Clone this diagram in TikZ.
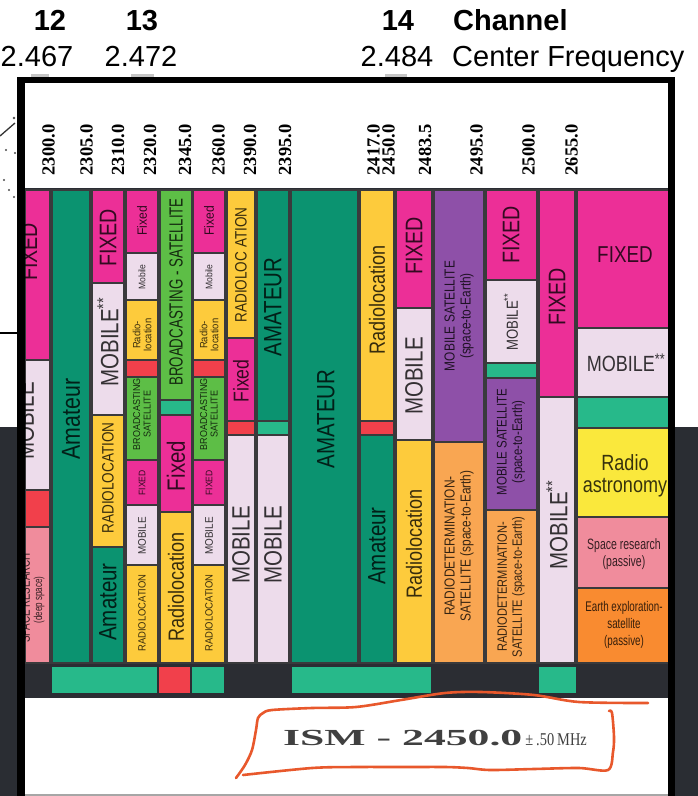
\documentclass[tikz,border=0pt]{standalone}
\usepackage{fontspec}
\setmainfont{Liberation Sans}
\newfontfamily\hfont{Liberation Sans}
\newfontfamily\nfont[FakeStretch=0.82]{Liberation Sans}
\newfontfamily\cfont[FakeStretch=0.7]{Liberation Sans}
\newfontfamily\tfont[FakeStretch=0.9]{Liberation Sans}
\newfontfamily\serfont{Liberation Serif}
\newfontfamily\ismfont[FakeStretch=1.9]{Liberation Serif}
\newfontfamily\ismsmall[FakeStretch=0.8]{Liberation Serif}
\newcommand\nfs[2]{\nfont\fontsize{#1}{#2}\selectfont}
\newcommand\cfs[2]{\cfont\fontsize{#1}{#2}\selectfont}
\newcommand\tfs[2]{\tfont\fontsize{#1}{#2}\selectfont}
\newcommand\cel[5]{\draw[cellb,fill=#1] (#2,#3) rectangle (#4,#5);}
\definecolor{cpink}{HTML}{EC2F97}
\definecolor{clav}{HTML}{EDDCEB}
\definecolor{cyel}{HTML}{FDCB3C}
\definecolor{cgrn}{HTML}{0B9370}
\definecolor{cteal}{HTML}{27B98A}
\definecolor{cred}{HTML}{F1404B}
\definecolor{cbgrn}{HTML}{5DBE46}
\definecolor{cpur}{HTML}{8E50A8}
\definecolor{corl}{HTML}{F9A652}
\definecolor{corg}{HTML}{F98B30}
\definecolor{cbyel}{HTML}{FAE83C}
\definecolor{csal}{HTML}{F08C9C}
\definecolor{cline}{HTML}{3A3A3C}
\definecolor{cdark}{HTML}{2A2D33}
\definecolor{cband}{HTML}{2B2D33}
\definecolor{cism}{HTML}{E8582C}
\begin{document}
\begin{tikzpicture}[x=1pt,y=-1pt,
  cellb/.style={draw=cline,line width=1.1pt},
  vt/.style={rotate=90,inner sep=0pt,text=black,text opacity=0.78,align=center},
  ht/.style={inner sep=0pt,text=black,text opacity=0.78,align=center},
  freq/.style={rotate=90,inner sep=0pt,font=\serfont\bfseries\fontsize{18.5}{18.5}\selectfont},
  hdr/.style={inner sep=0pt,font=\hfont\fontsize{29}{29}\selectfont},
  hdrb/.style={hdr,font=\hfont\bfseries\fontsize{29}{29}\selectfont}]
\useasboundingbox (0,0) rectangle (698,796);
\fill[white] (0,0) rectangle (698,796);
\fill[cdark] (0,427) rectangle (17,796);
\fill[cdark] (675,427) rectangle (698,796);
% remnants at left
\draw[black,line width=1.5pt] (0,333) -- (17,333);
\draw[black!80,line width=1.3pt] (0,136) -- (15,123);
\fill[black!70] (14,118) circle (1.3pt) (6,150) circle (1.1pt) (15,153) circle (1.1pt)
  (4,180) circle (1.1pt) (9,190) circle (1.1pt) (14,197) circle (1.1pt);
% small ticks above frame
\fill[gray!45] (31,74) rectangle (49,77);
\fill[gray!45] (131,74) rectangle (154,77);
\fill[gray!45] (385,74) rectangle (407,77);
% top headings
\node[hdrb,anchor=base] (c12) at (50,30) {12};
\node[hdrb,anchor=base] (c13) at (142,30) {13};
\node[hdrb,anchor=base] (c14) at (398,30) {14};
\node[hdrb,anchor=base west] (chn) at (453,30) {Channel};
\node[hdr,anchor=base] (f12) at (37,66) {2.467};
\node[hdr,anchor=base] (f13) at (141,66) {2.472};
\node[hdr,anchor=base] (f14) at (397,66) {2.484};
\node[hdr,anchor=base west] (cfq) at (452,66) {Center Frequency};
% chart backgrounds
\fill[white] (25,83) rectangle (669,188);
\fill[cband] (25,188) rectangle (669,698);
% column 1
\cel{cpink}{25}{190}{50}{360}
\cel{clav}{25}{360}{50}{490}
\cel{cred}{25}{490}{50}{527}
\cel{csal}{25}{527}{50}{663}
\begin{scope}
\clip (25,190) rectangle (50,663);
\node[vt,anchor=base,font=\nfs{24}{24}] (t01) at (37,252) {FIXED};
\node[vt,anchor=base,font=\nfs{25}{25}] (t02) at (34,421) {MOBILE};
\node[vt,anchor=base,font=\cfs{14}{14}] (t03) at (30,598) {SPACE RESEARCH};
\node[vt,anchor=base,font=\cfs{11.5}{12}] (t04) at (42,600) {(deep space)};
\end{scope}
% column 2
\cel{cgrn}{52}{190}{90}{663}
\node[vt,font=\nfs{26}{26}] (t05) at (71,419) {Amateur};
% column 3
\cel{cpink}{92}{190}{124}{283}
\cel{clav}{92}{283}{124}{415}
\cel{cyel}{92}{415}{124}{547}
\cel{cgrn}{92}{547}{124}{663}
\node[vt,font=\nfs{24}{24}] (t06) at (108,238) {FIXED};
\node[vt,font=\nfs{25}{25}] (t07) at (108,342) {MOBILE\textsuperscript{**}};
\node[vt,font=\nfs{16.5}{17}] (t08) at (108,478) {RADIOLOCATION};
\node[vt,font=\nfs{25}{25}] (t09) at (108,602) {Amateur};
% column 4
\cel{cpink}{126}{190}{158}{253}
\cel{clav}{126}{253}{158}{300}
\cel{cyel}{126}{300}{158}{360}
\cel{cred}{126}{360}{158}{377}
\cel{cbgrn}{126}{377}{158}{460}
\cel{cpink}{126}{460}{158}{505}
\cel{clav}{126}{505}{158}{565}
\cel{cyel}{126}{565}{158}{663}
\node[vt,font=\tfs{13.5}{14}] (t10) at (142,221) {Fixed};
\node[vt,font=\tfs{9.5}{10}] (t11) at (142,277) {Mobile};
\node[vt,font=\tfs{10.5}{11}] (t12) at (142,335) {Radio-\\location};
\begin{scope}
\clip (126,378) rectangle (158,459);
\node[vt,font=\tfs{10}{10.5}] (t13) at (142,414) {BROADCASTING\\SATELLITE};
\end{scope}
\node[vt,font=\tfs{9.5}{10}] (t14) at (142,483) {FIXED};
\node[vt,font=\tfs{11}{11}] (t15) at (142,536) {MOBILE};
\node[vt,font=\tfs{10.5}{11}] (t16) at (142,613) {RADIOLOCATION};
% column 5
\cel{cbgrn}{160}{190}{192}{400}
\cel{cteal}{160}{400}{192}{415}
\cel{cpink}{160}{415}{192}{512}
\cel{cyel}{160}{512}{192}{663}
\node[vt,font=\cfs{19}{19}] (t17) at (176,292) {BROADCASTING - SATELLITE};
\node[vt,font=\nfs{25}{25}] (t18) at (176,466) {Fixed};
\node[vt,font=\nfs{22}{22}] (t19) at (176,587) {Radiolocation};
% column 6
\cel{cpink}{193}{190}{225}{253}
\cel{clav}{193}{253}{225}{300}
\cel{cyel}{193}{300}{225}{360}
\cel{cred}{193}{360}{225}{377}
\cel{cbgrn}{193}{377}{225}{460}
\cel{cpink}{193}{460}{225}{505}
\cel{clav}{193}{505}{225}{565}
\cel{cyel}{193}{565}{225}{663}
\node[vt,font=\tfs{13.5}{14}] (t20) at (209,221) {Fixed};
\node[vt,font=\tfs{9.5}{10}] (t21) at (209,277) {Mobile};
\node[vt,font=\tfs{10.5}{11}] (t22) at (209,335) {Radio-\\location};
\begin{scope}
\clip (193,378) rectangle (225,459);
\node[vt,font=\tfs{10}{10.5}] (t23) at (209,414) {BROADCASTING\\SATELLITE};
\end{scope}
\node[vt,font=\tfs{9.5}{10}] (t24) at (209,483) {FIXED};
\node[vt,font=\tfs{11}{11}] (t25) at (209,536) {MOBILE};
\node[vt,font=\tfs{10.5}{11}] (t26) at (209,613) {RADIOLOCATION};
% column 7
\cel{cyel}{227}{190}{255}{338}
\cel{cpink}{227}{338}{255}{421}
\cel{cred}{227}{421}{255}{435}
\cel{clav}{227}{435}{255}{663}
\node[vt,font=\nfs{16.5}{17}] (t27) at (241,265) {RADIOLOC ATION};
\node[vt,font=\nfs{21.5}{22}] (t28) at (241,381) {Fixed};
\node[vt,font=\nfs{25}{25}] (t29) at (241,545) {MOBILE};
% column 8
\cel{cgrn}{257}{190}{289}{421}
\cel{cteal}{257}{421}{289}{435}
\cel{clav}{257}{435}{289}{663}
\node[vt,font=\nfs{25}{25}] (t30) at (273,307) {AMATEUR};
\node[vt,font=\nfs{25}{25}] (t31) at (273,545) {MOBILE};
% column 9
\cel{cgrn}{291}{190}{358}{663}
\node[vt,font=\nfs{25}{25}] (t32) at (326,419) {AMATEUR};
% column 10
\cel{cyel}{360}{190}{394}{421}
\cel{cred}{360}{421}{394}{435}
\cel{cgrn}{360}{435}{394}{663}
\node[vt,font=\nfs{22}{22}] (t33) at (377,300) {Radiolocation};
\node[vt,font=\nfs{25}{25}] (t34) at (377,546) {Amateur};
% column 11
\cel{cpink}{396}{190}{432}{308}
\cel{clav}{396}{308}{432}{440}
\cel{cyel}{396}{440}{432}{663}
\node[vt,font=\nfs{24}{24}] (t35) at (414,246) {FIXED};
\node[vt,font=\nfs{25}{25}] (t36) at (414,376) {MOBILE};
\node[vt,font=\nfs{22}{22}] (t37) at (414,544) {Radiolocation};
% column 12
\cel{cpur}{434}{190}{484}{442}
\cel{corl}{434}{442}{484}{663}
\node[vt,font=\nfs{14.5}{16}] (t38) at (459,316) {MOBILE SATELLITE\\(space-to-Earth)};
\node[vt,font=\nfs{14.5}{16}] (t39) at (459,546) {RADIODETERMINATION-\\SATELLITE (space-to-Earth)};
% column 13
\cel{cpink}{486}{190}{537}{280}
\cel{clav}{486}{280}{537}{363}
\cel{cteal}{486}{363}{537}{378}
\cel{cpur}{486}{378}{537}{510}
\cel{corl}{486}{510}{537}{663}
\node[vt,font=\nfs{24}{24}] (t40) at (511,235) {FIXED};
\node[vt,font=\nfs{16}{16}] (t41) at (511,322) {MOBILE\textsuperscript{**}};
\node[vt,font=\nfs{14}{15.5}] (t42) at (511,442) {MOBILE SATELLITE\\(space-to-Earth)};
\node[vt,font=\nfs{13.5}{15}] (t43) at (511,587) {RADIODETERMINATION-\\SATELLITE (space-to-Earth)};
% column 14
\cel{cpink}{539}{190}{575}{397}
\cel{clav}{539}{397}{575}{663}
\node[vt,font=\nfs{24}{24}] (t44) at (557,297) {FIXED};
\node[vt,font=\nfs{25}{25}] (t45) at (557,525) {MOBILE\textsuperscript{**}};
% column 15
\cel{cpink}{577}{190}{669}{328}
\cel{clav}{577}{328}{669}{397}
\cel{cteal}{577}{397}{669}{428}
\cel{cbyel}{577}{428}{669}{517}
\cel{csal}{577}{517}{669}{588}
\cel{corg}{577}{588}{669}{663}
\node[ht,font=\nfs{23}{23}] (t46) at (625,255) {FIXED};
\node[ht,font=\nfs{22}{22}] (t47) at (626,363) {MOBILE\textsuperscript{**}};
\node[ht,font=\nfs{22}{22}] (t48) at (625,476) {Radio\\astronomy};
\node[ht,font=\cfs{15}{17}] (t49) at (624,554) {Space research\\(passive)};
\node[ht,font=\cfs{14}{17}] (t50) at (624,625) {Earth exploration-\\satellite\\(passive)};
% bottom band blocks
\fill[cteal] (52,667) rectangle (157,693);
\fill[cred] (159,667) rectangle (190,693);
\fill[cteal] (192,667) rectangle (224,693);
\fill[cteal] (292,667) rectangle (431,693);
\fill[cteal] (539,667) rectangle (576,693);
% header frequency labels
\node[freq] (q01) at (48.5,150) {2300.0};
\node[freq] (q02) at (86.5,150) {2305.0};
\node[freq] (q03) at (118,150) {2310.0};
\node[freq] (q04) at (150,150) {2320.0};
\node[freq] (q05) at (185,150) {2345.0};
\node[freq] (q06) at (218.5,150) {2360.0};
\node[freq] (q07) at (250,150) {2390.0};
\node[freq] (q08) at (285,150) {2395.0};
\node[freq] (q09) at (373.5,150) {2417.0};
\node[freq] (q10) at (388.5,150) {2450.0};
\node[freq] (q11) at (425,150) {2483.5};
\node[freq] (q12) at (476.5,150) {2495.0};
\node[freq] (q13) at (528.5,150) {2500.0};
\node[freq] (q14) at (571.5,150) {2655.0};
\node[freq] (q15) at (677,150) {2690.0};
% bottom white area
\fill[white] (25,698) rectangle (669,794);
\fill[gray!70] (25,794) rectangle (669,796);
% frame
\fill[black] (17,77) rectangle (25,796);
\fill[black] (668,77) rectangle (675,796);
\fill[black] (17,77) rectangle (675,83);
\fill[white] (675,83) rectangle (698,427);
% ISM label
\node[inner sep=0pt,anchor=base west,text=black!75] (ism) at (283,745)
  {{\ismfont\bfseries\fontsize{23}{23}\selectfont ISM - 2450.0}{\ismsmall\fontsize{18}{18}\selectfont\,±\,.50\,MHz}};
% hand-drawn loop
\draw[cism,line width=2.6pt,line cap=round,line join=round]
  plot[smooth,tension=0.5] coordinates {(648,703) (579,702) (534,695) (481,692) (445,693) (401,700)
  (356,707) (312,708) (272,710) (263,713) (258,718) (256,730) (252,750) (245,765) (236,778)};
\draw[cism,line width=2.6pt,line cap=round,line join=round]
  plot[smooth,tension=0.5] coordinates {(243,775) (312,768) (356,767) (401,767) (445,767) (468,768)
  (490,770) (534,769) (579,768) (608,770) (613,752) (614,737) (612,713) (609,711)};
\end{tikzpicture}
\end{document}
